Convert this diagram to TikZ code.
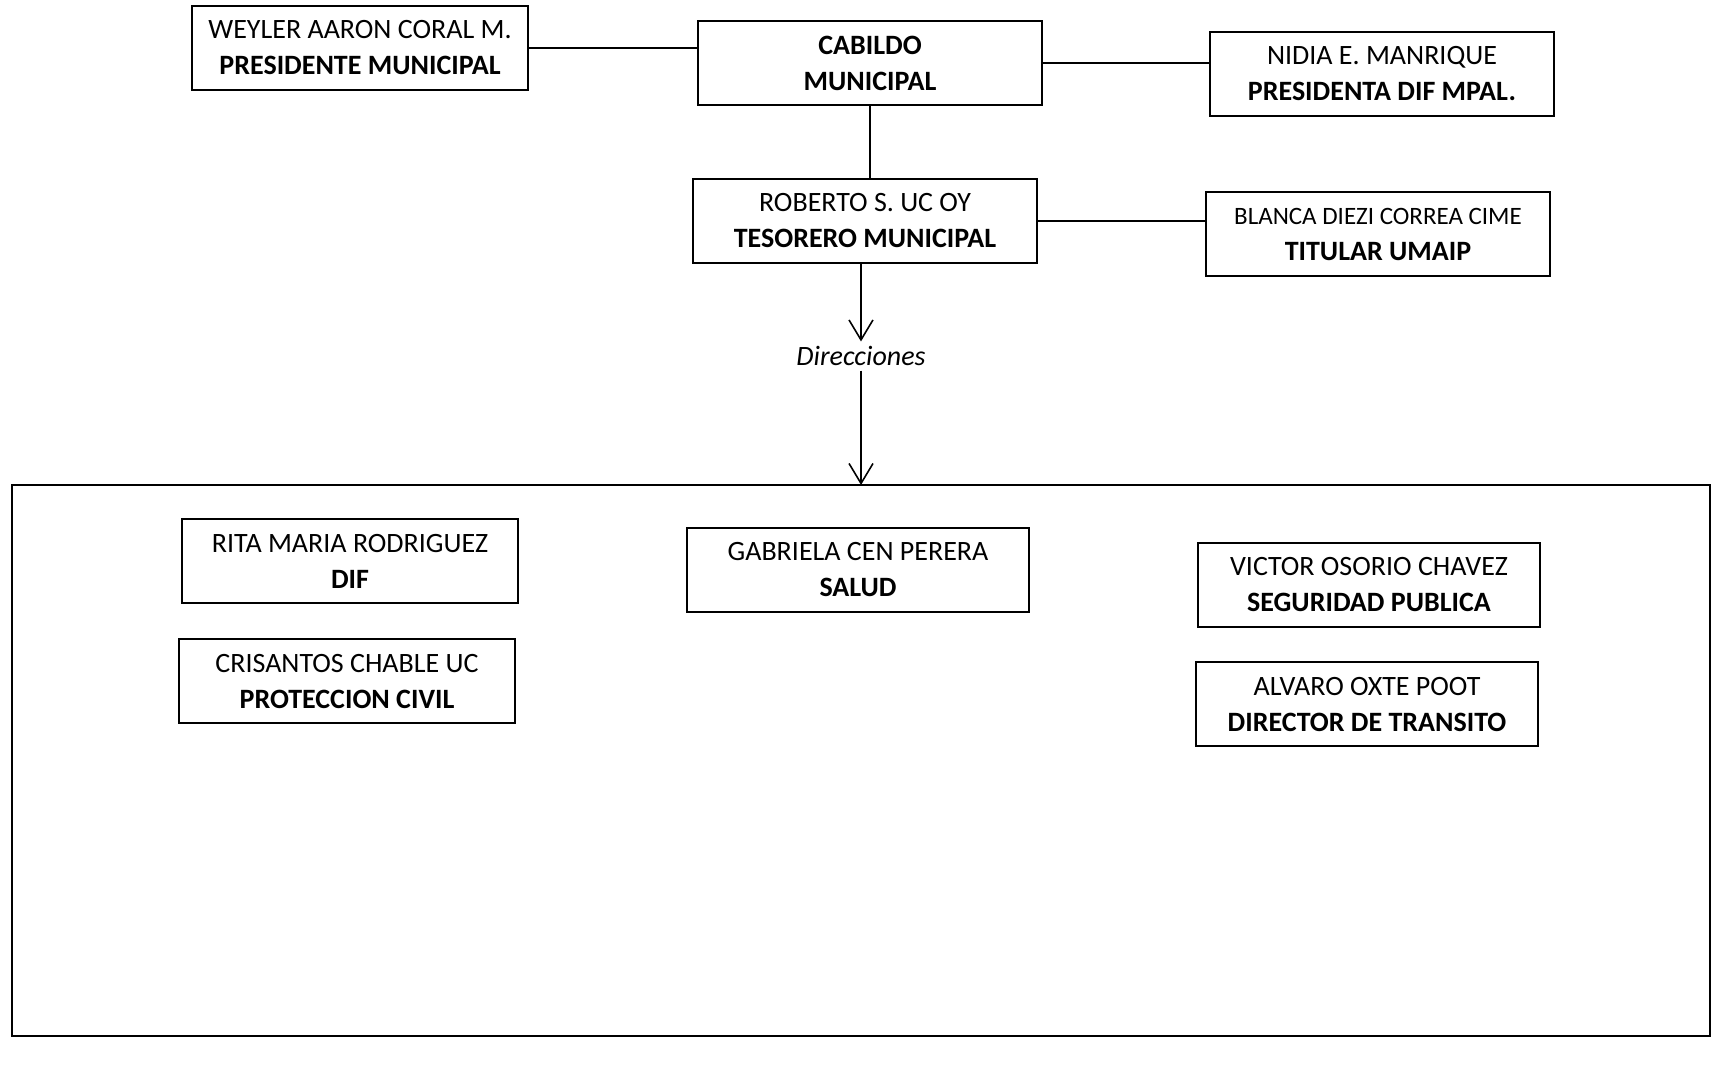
\documentclass[tikz,border=0pt]{standalone}
\usepackage{fontspec}
\setmainfont{Carlito}
\usetikzlibrary{arrows.meta}

\begin{document}
\begin{tikzpicture}[x=0.5pt,y=-0.5pt,line width=0.8pt,
    >={Straight Barb[length=10pt,width=12pt]},
    cargo/.style={draw,line width=1.3pt,minimum width=#1,minimum height=42pt,
      inner sep=0pt,align=center,font=\fontsize{14}{18}\selectfont},
    area/.style={draw,line width=1.3pt,minimum width=849pt,minimum height=275.5pt,
      inner sep=0pt,outer sep=0pt}]
    \useasboundingbox (0,0) rectangle (1713,1067);

    % upper level
    \node[cargo=168pt] (presidente) at (360,48) {WEYLER AARON CORAL M.\\\textbf{PRESIDENTE MUNICIPAL}};
    \node[cargo=172pt] (cabildo) at (870,63) {\textbf{CABILDO}\\\textbf{MUNICIPAL}};
    \node[cargo=172pt] (presidenta) at (1382,74) {NIDIA E. MANRIQUE\\\textbf{PRESIDENTA DIF MPAL.}};
    \node[cargo=172pt] (tesorero) at (865,221) {ROBERTO S. UC OY\\\textbf{TESORERO MUNICIPAL}};
    \node[cargo=172pt] (umaip) at (1378,234) {{\fontsize{12.5}{18}\selectfont BLANCA DIEZI CORREA CIME}\\\textbf{TITULAR UMAIP}};
    \node[font=\fontsize{14}{18}\selectfont\itshape,inner sep=2pt] (direcciones) at (861,356) {Direcciones};

    % direcciones
    \node[area] (areas) at (861,760.5) {};
    \node[cargo=168pt] (dif) at (350,561) {RITA MARIA RODRIGUEZ\\\textbf{DIF}};
    \node[cargo=168pt] (proteccion) at (347,681) {CRISANTOS CHABLE UC\\\textbf{PROTECCION CIVIL}};
    \node[cargo=171pt] (salud) at (858,570) {GABRIELA CEN PERERA\\\textbf{SALUD}};
    \node[cargo=171pt] (seguridad) at (1369,585) {VICTOR OSORIO CHAVEZ\\\textbf{SEGURIDAD PUBLICA}};
    \node[cargo=171pt] (transito) at (1367,704) {ALVARO OXTE POOT\\\textbf{DIRECTOR DE TRANSITO}};

    \draw (presidente.east) -- (presidente.east -| cabildo.west);
    \draw (cabildo.east) -- (cabildo.east -| presidenta.west);
    \draw (cabildo.south) -- (cabildo.south |- tesorero.north);
    \draw (tesorero.east) -- (tesorero.east -| umaip.west);
    \draw[->] (tesorero.south -| direcciones.north) -- (direcciones.north);
    \draw[->] (direcciones.south) -- (direcciones.south |- areas.north);
\end{tikzpicture}
\end{document}
